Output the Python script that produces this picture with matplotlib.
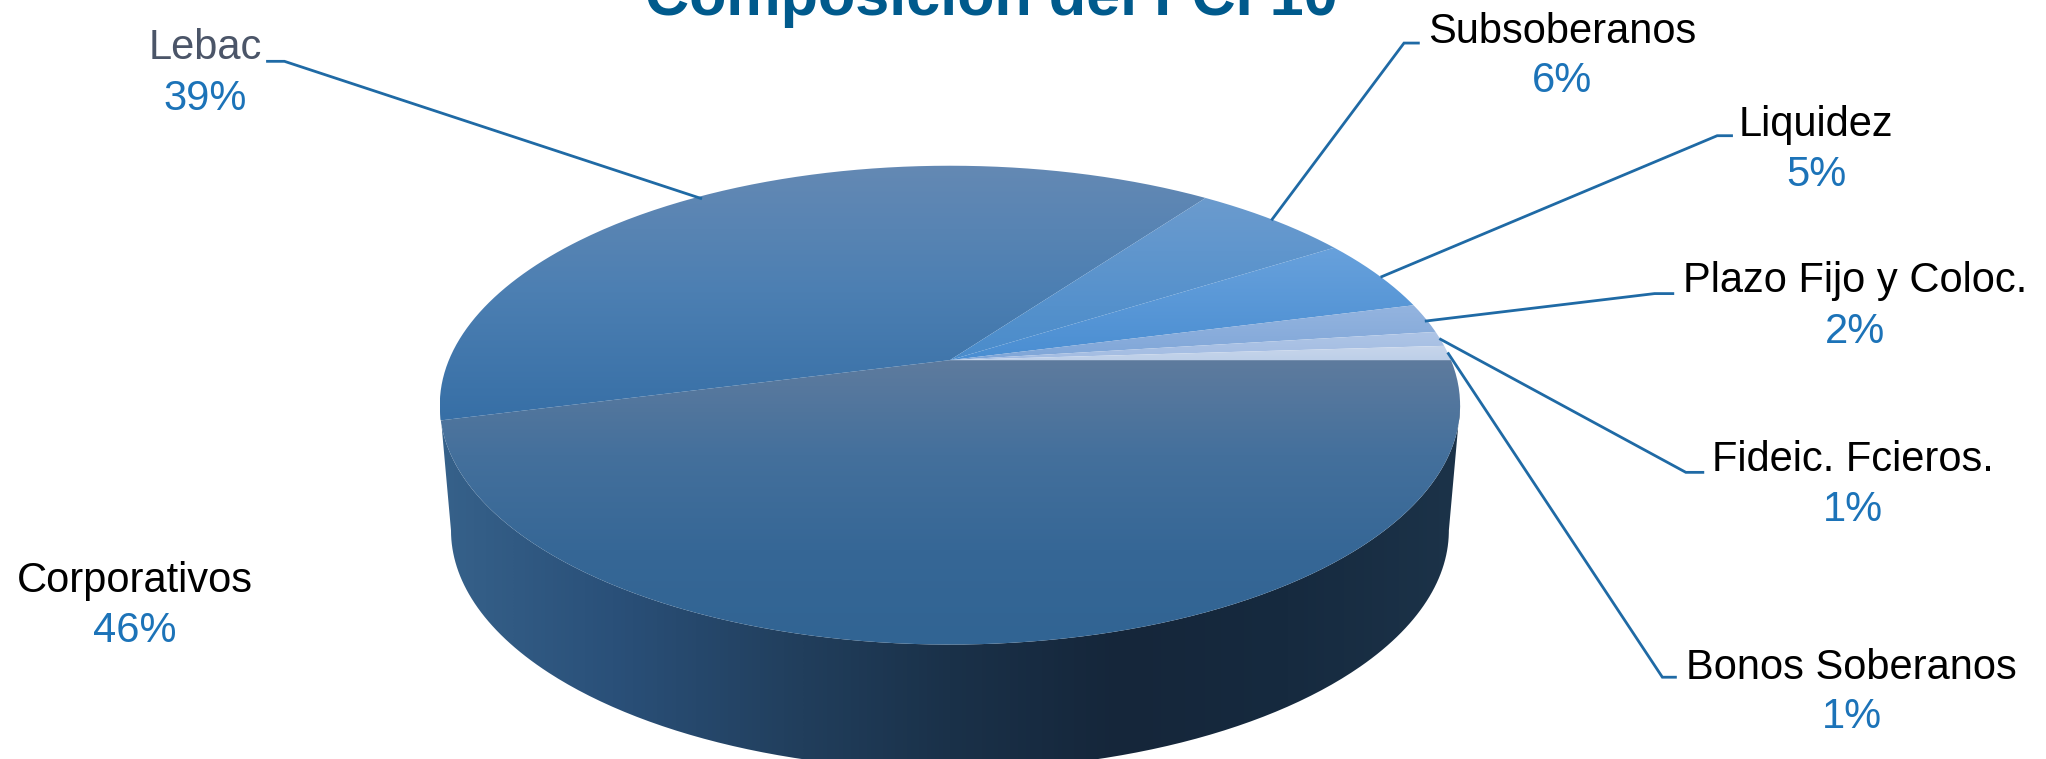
import numpy as np
import matplotlib
matplotlib.use("Agg")
import matplotlib.pyplot as plt
from matplotlib.colors import LinearSegmentedColormap
from matplotlib.patches import PathPatch
from matplotlib.path import Path

plt.rcParams['font.family'] = ['Liberation Sans', 'DejaVu Sans']

# Data
categories = ["Corporativos", "Lebac", "Subsoberanos", "Liquidez", "Plazo Fijo y Coloc.", "Fideic. Fcieros.", "Bonos Soberanos"]
values = [46, 39, 6, 5, 2, 1, 1]
title = "Composición del FCI 10"

# gradient of each slice, from its top to its bottom
slice_colors = [["#5e7b9e", "#44709c", "#366796", "#316493"], ["#6489b4", "#4c7fb2", "#376fa6"],
                ["#6b9bce", "#4a8ccb"], ["#68a1dc", "#4a8ed2"], ["#94b4df", "#7fa6d8"],
                ["#aec5e6", "#a3bce2"], ["#c8d6eb", "#bdcfe8"]]
wall_colors = ["#36618a", "#2a5079", "#22405f", "#1a3149", "#15263a", "#162a3f", "#1c3349"]

# label centre x, name baseline y, percent baseline y (in the coordinates of a 1568 wide picture)
S = 2046 / 1568
label_pos = [(103, 454, 492), (157, 45.5, 84.5), (1197, 33, 70.5), (1392, 104, 142.5),
             (1422, 223.5, 263), (1420, 361, 399.5), (1419, 520, 558)]
name_colors = ["black", "#4b5568", "black", "black", "black", "black", "black"]
leaders = [None,
           [(205, 47), (218, 47), (537, 152)],
           [(1087, 33), (1076, 33), (975, 168)],
           [(1327, 104), (1316, 104), (1059, 212)],
           [(1282, 225), (1268, 225), (1093, 246)],
           [(1305, 362), (1292, 362), (1104, 260)],
           [(1284, 519), (1274, 519), (1110, 271)]]

# pie geometry: the disc is seen in perspective, apex sits above the ellipse centre
cx, cy = 728 * S, 276 * S
R, A, K = 384 * S, 177 * S, 0.188
WALL_H, WALL_X = 96 * S, 0.978


def disc(t):
    d = 1 + K * np.sin(t)
    return cx + R * np.cos(t) / d, cy - A * np.sin(t) / d


def gradient(ax, path, cols, horizontal=False):
    cmap = LinearSegmentedColormap.from_list("g", cols)
    x0, y0 = path.vertices.min(axis=0)
    x1, y1 = path.vertices.max(axis=0)
    g = np.linspace(0, 1, 256)
    g = g.reshape(1, -1) if horizontal else g.reshape(-1, 1)
    im = ax.imshow(g, cmap=cmap, extent=(x0, x1, y1, y0), aspect="auto", interpolation="bilinear", zorder=2)
    im.set_clip_path(PathPatch(path, transform=ax.transData))


fig = plt.figure(figsize=(20.46, 7.59), dpi=100)
ax = fig.add_axes([0, 0, 1, 1])

# side wall, between the widest points of the disc
tw = np.arcsin(K)
low_t = np.linspace(np.pi + tw, 2 * np.pi - tw, 300)
ux, uy = disc(low_t)
sx = cx + (ux - cx) * WALL_X
sy = uy + WALL_H
wall = Path(np.column_stack([np.r_[sx, ux[::-1]], np.r_[sy, uy[::-1]]]))
gradient(ax, wall, wall_colors, horizontal=True)

# top face, one wedge per value, clockwise from 3 o'clock
start = 0.0
for val, cols in zip(values, slice_colors):
    end = start - val / sum(values) * 2 * np.pi
    t = np.linspace(start, end, 200)
    x, y = disc(t)
    verts = np.column_stack([np.r_[cx, x, cx], np.r_[cy, y, cy]])
    gradient(ax, Path(verts), cols)
    start = end

# leader lines
for pts in leaders:
    if pts:
        xs, ys = zip(*pts)
        ax.plot(np.array(xs) * S, np.array(ys) * S, color="#1f6aa5", lw=2, zorder=3, solid_joinstyle="miter")

# labels
for name, val, pos, col in zip(categories, values, label_pos, name_colors):
    ax.text(pos[0] * S, pos[1] * S, name, ha="center", va="baseline", fontsize=30, color=col, zorder=4)
    ax.text(pos[0] * S, pos[2] * S, f"{val}%", ha="center", va="baseline", fontsize=30, color="#1c73b8", zorder=4)

ax.text(760 * S, 11.5 * S, title, ha="center", va="baseline", fontsize=44, fontweight="bold", color="#005a8c", zorder=4)

ax.set_xlim(0, 2046)
ax.set_ylim(759, 0)
ax.axis("off")
fig.savefig("out.png", dpi=100, facecolor="white")
